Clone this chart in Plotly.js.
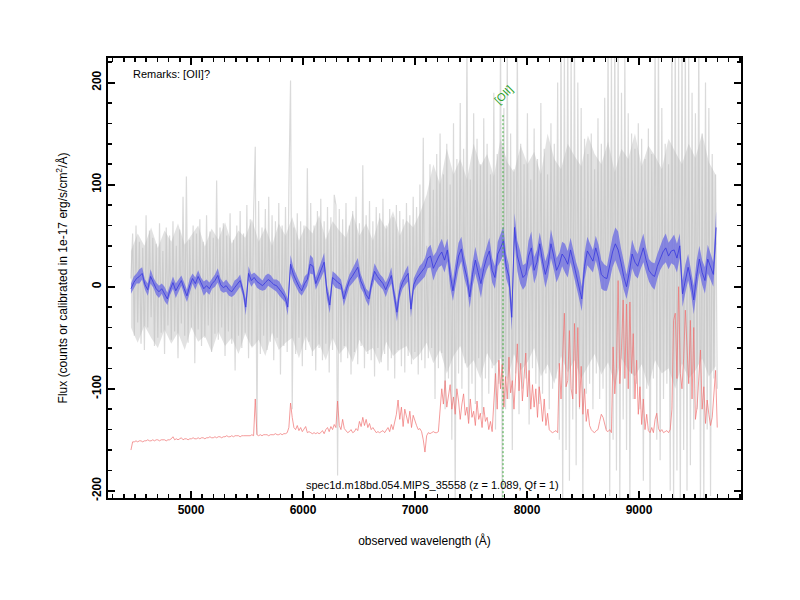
<!DOCTYPE html>
<html>
<head>
<meta charset="utf-8">
<script src="https://cdn.plot.ly/plotly-3.0.1.min.js"></script>
<style>html,body{margin:0;padding:0;background:#fff;}#chart{width:800px;height:600px;}</style>
</head>
<body>
<div id="chart"></div>
<script>
// ---------- data ----------
const GRID_START = 4464;   // first sampled wavelength (Å)
const GRID_STEP = 15;      // raw / sky sampling step (Å)
const SMOOTH_STEP = 25;    // smoothed-spectrum sampling step (Å)
const CORE_STEP = 60;      // step of the dense-noise envelope (Å)

// raw flux (grey spikes), 350 samples
const rawFlux = [
  8, 52, -48, 60, -35, 44, -56, 38, -62, 70, -40, 55, -30, 48, -58, 42,
  -50, 62, -45, 35, -66, 58, -38, 50, -52, 64, -44, 40, -70, 56, -36, 88,
  -48, 108, -55, 46, -40, 60, -75, 52, -42, 66, -58, 44, -50, 70, -38, 54,
  -64, 48, -46, 104, -52, 58, -40, 62, -68, 50, -44, 72, -56, 46, -82, 60,
  -48, 74, -60, 52, -45, 80, -70, 66, -58, 72, 137, -145, 84, -66, 58, -48,
  76, -62, 88, -54, 70, -72, 64, -50, 82, -86, 60, -58, 78, -64, 96, 202,
  -120, 58, -66, 72, -50, 64, -78, 60, -62, 116, -54, 82, -68, 60, -82, 74,
  -60, 86, -72, 64, -56, 78, -84, 68, -62, 90, 80, -185, 76, -74, 66, -58,
  82, -70, 60, -86, 74, -64, 88, -76, 62, -58, 119, -80, 70, -66, 84, -72,
  64, -88, 78, -60, 72, -74, 86, -66, 60, -82, 76, -70, 68, -90, 80, -62,
  74, -78, 66, -84, 82, -68, 70, -76, 88, -64, 78, -86, 100, -72, 146, -80,
  40, -70, 120, -60, 95, -110, 130, -80, 150, -65, 110, -120, 140, -90, 100, -150,
  160, -210, 125, -85, 180, -100, 135, -75, 240, -130, 105, -95, 170, -115, 145, -70,
  120, -125, 165, -90, 140, -105, 110, -80, 190, -140, 130, -95, 250, -220, 175, -120,
  230, -110, 150, -160, 115, -85, 240, -125, 140, -100, 120, -90, 170, -135, 105, -80,
  155, -95, 125, -115, 180, -105, 135, -85, 110, -120, 160, -100, 140, -90, 200, -150,
  250, -215, 235, -160, 260, -190, 230, -130, 245, -175, 200, -120, 175, -210, 145, -105,
  130, -95, 150, -120, 115, -85, 165, -110, 140, -100, 185, -140, 240, -205, 230, -150,
  255, -180, 240, -215, 190, -130, 225, -160, 170, -215, 150, -110, 135, -95, 160, -120,
  145, -190, 125, -100, 155, -215, 130, -90, 240, -150, 250, -170, 175, -110, 140, -95,
  120, -200, 245, -215, 260, -180, 230, -220, 250, -160, 240, -200, 225, -175, 190, -140,
  170, -120, 245, -215, 150, -210, 200, -140, 175, -205, 130, -90, 110, -100
];

// dense part of the raw-flux noise: upper / lower edges, 88 samples each
const coreUpper = [
  35, 52, 40, 58, 38, 55, 44, 62, 41, 50, 60, 39, 57, 46, 63, 42, 55, 48, 66, 44, 58, 40,
  62, 50, 68, 45, 60, 52, 70, 46, 64, 55, 48, 72, 50, 62, 45, 68, 56, 74, 50, 65, 58, 72,
  90, 120, 100, 135, 110, 125, 105, 140, 118, 130, 108, 145, 122, 112, 138, 120, 132, 110, 150, 125, 115, 140,
  128, 118, 148, 130, 120, 142, 112, 135, 125, 150, 118, 138, 128, 115, 145, 132, 120, 140, 126, 150, 122, 110
];
const coreLower = [
  -40, -55, -38, -50, -60, -42, -56, -45, -62, -40, -54, -48, -64, -44, -58, -50, -66, -46, -60, -52, -68, -45,
  -62, -55, -50, -70, -48, -64, -56, -72, -50, -66, -58, -74, -52, -64, -60, -76, -54, -68, -62, -58, -72, -66,
  -55, -75, -62, -85, -68, -58, -80, -72, -90, -65, -78, -70, -92, -66, -82, -74, -60, -88, -76, -95, -68, -84,
  -72, -90, -78, -66, -86, -74, -96, -70, -82, -88, -76, -98, -72, -85, -80, -100, -75, -90, -82, -70, -88, -78
];

// sky spectrum (red, offset), 350 samples
const skyFlux = [
  -160, -152, -152, -151, -152, -151, -151, -152, -151, -151, -150, -151, -151, -150, -151, -150,
  -150, -151, -150, -150, -150, -151, -150, -150, -149, -147, -150, -149, -150, -149, -148, -150,
  -149, -149, -150, -149, -149, -148, -149, -149, -148, -149, -148, -148, -149, -148, -148, -147,
  -148, -148, -147, -148, -147, -147, -148, -147, -147, -146, -147, -147, -146, -147, -146, -146,
  -146, -147, -146, -146, -146, -146, -146, -146, -145, -146, -110, -145, -146, -145, -146, -145,
  -145, -145, -146, -145, -145, -145, -144, -145, -145, -144, -145, -144, -144, -143, -138, -114,
  -128, -138, -140, -136, -141, -138, -142, -140, -137, -143, -142, -143, -144, -143, -144, -143,
  -144, -143, -141, -144, -140, -138, -142, -137, -140, -135, -138, -112, -136, -140, -130, -139,
  -141, -143, -142, -140, -143, -142, -139, -141, -132, -137, -128, -136, -130, -138, -134, -140,
  -138, -141, -143, -142, -143, -142, -141, -143, -140, -138, -142, -135, -140, -133, -125, -111,
  -130, -118, -137, -120, -128, -134, -122, -138, -126, -132, -136, -140, -139, -142, -150, -162,
  -146, -143, -144, -143, -142, -143, -143, -142, -120, -100, -115, -92, -118, -104, -96, -120,
  -108, -125, -100, -112, -130, -115, -105, -126, -118, -134, -110, -128, -122, -136, -112, -130,
  -124, -138, -118, -132, -128, -140, -132, -142, -110, -85, -120, -72, -100, -76, -118, -88,
  -110, -69, -104, -92, -120, -85, -56, -102, -75, -112, -90, -65, -108, -82, -120, -96,
  -118, -100, -128, -98, -112, -132, -110, -136, -124, -140, -142, -143, -142, -141, -143, -75,
  -110, -75, -26, -98, -92, -43, -100, -110, -36, -105, -40, -118, -78, -125, -100, -132,
  -120, -136, -140, -142, -143, -141, -140, -132, -125, -128, -136, -141, -142, -140, -143, -59,
  -105, -80, 6, -95, -60, -13, -90, -17, -100, -15, -85, -46, -110, -72, -125, -98,
  -135, -110, -140, -125, -141, -143, -138, -143, -130, -124, -139, -142, -140, -143, -142, -141,
  -143, -140, -120, -33, -26, -90, 0, -85, -100, -70, -23, -59, -95, -33, -110, -40,
  -130, -118, -90, -62, -120, -98, -134, -111, -125, -136, -128, -100, -82, -138
];

// smoothed flux (blue), 210 samples
const smoothFlux = [
  -2, 4, 8, 10, 13, 2, -3, 10, 4, -2,
  -5, -2, -7, -12, -3, 4, -4, 1, 6, -2,
  -9, 1, 8, 3, 10, 4, -2, 1, -2, 3,
  6, 11, 2, -1, 1, -3, -5, -1, 2, 6,
  -4, -20, 13, 6, 9, 5, 3, 1, 4, 7,
  5, 2, 1, -2, -6, -10, -20, 22, 12, 6,
  0, -4, 3, 7, 22, 20, 3, 10, 18, 24,
  -5, -18, 9, 6, 4, 2, -12, -2, 6, 10,
  14, 19, 6, 0, -8, -12, 4, 15, 10, 6,
  3, -3, 4, 11, -8, -25, -4, 4, 9, 13,
  -22, 2, 8, 12, 15, 19,
  28, 30, 18, 24, 30, 34, 26, 36, 12, -4,
  14, 30, 37, 20, 9, -10, 12, 26, 14, 3,
  18, 28, 35, 16, 9, 32, 38, 45, 20, 10,
  -30, 58, 30, 19, 9, 12, 30, 38, 16, 24,
  42, 25, 12, 22, 42, 30, 16, 22, 32, 28,
  22, 36, 24, 12, 2, -12, 20, 35, 30, 25,
  38, 28, 12, 9, 8, 20, 34, 42, 36, 24,
  10, 0, 14, 32, 24, 20, 30, 38, 26, 16,
  12, 10, 20, 28, 34, 38, 30, 35, 36, 28,
  40, -7, 8, 19, 6, -13, 10, 27, 14, 6,
  27, 20, 12, 58
];

// 1-sigma half width of the smoothed flux band, 210 samples
const smoothErr = [
  5, 6, 5, 7, 6, 5, 6, 7, 5, 6, 6, 5, 7, 6, 5, 6, 7, 6, 5, 6,
  6, 7, 5, 6, 6, 5, 7, 6, 6, 5, 6, 7, 6, 5, 6, 6, 5, 7, 6, 6,
  5, 8, 7, 6, 5, 6, 6, 5, 7, 6, 6, 5, 6, 7, 6, 5, 8, 9, 7, 6,
  6, 5, 7, 6, 9, 8, 6, 7, 8, 9, 7, 8, 6, 7, 6, 5, 7, 6, 6, 7,
  8, 9, 7, 6, 6, 7, 6, 8, 7, 6, 6, 7, 6, 8, 7, 9, 7, 6, 7, 8,
  8, 6, 7, 8, 8, 9,
  10, 11, 12, 10, 11, 13, 12, 11, 12, 10, 12, 13, 12, 11, 10, 11, 12, 13, 12, 14,
  11, 12, 13, 12, 11, 12, 13, 14, 12, 11, 13, 14, 15, 16, 12, 11, 15, 16, 13, 12,
  11, 12, 13, 12, 14, 13, 12, 11, 12, 14, 13, 12, 11, 12, 13, 12, 13, 14, 12, 11,
  12, 13, 14, 13, 12, 14, 15, 16, 18, 14, 13, 12, 13, 14, 13, 12, 13, 14, 12, 11,
  12, 13, 12, 12, 13, 14, 13, 12, 15, 14, 12, 13, 14, 13, 12, 14, 15, 13, 12, 13,
  14, 13, 12, 16
];

// emission line marker
const lineName = "[OII]";
const lineWave = 7786;
const lineTop = 168;
const lineBottom = -215;
const lineLabelY = 188;

// axis ticks
const xTickVals = [5000, 6000, 7000, 8000, 9000];
const xTickText = ["5000", "6000", "7000", "8000", "9000"];
const yTickVals = [-200, -100, 0, 100, 200];
const yTickText = ["-200", "-100", "0", "100", "200"];

const remarkText = "Remarks: [OII]?";
const specText = "spec1d.m18bd.054.MIPS_35558 (z = 1.089, Qf = 1)";

// ---------- traces ----------
const bandUpper = smoothFlux.map((v, i) => v + smoothErr[i]);
const bandLower = smoothFlux.map((v, i) => v - smoothErr[i]);

const traces = [
  {type: "scatter", mode: "lines", x0: GRID_START, dx: GRID_STEP, y: rawFlux,
   line: {color: "rgb(218,218,218)", width: 1.2}, hoverinfo: "skip"},
  {type: "scatter", mode: "lines", x0: GRID_START, dx: CORE_STEP, y: coreLower,
   line: {width: 0, color: "rgba(0,0,0,0)"}, hoverinfo: "skip"},
  {type: "scatter", mode: "lines", x0: GRID_START, dx: CORE_STEP, y: coreUpper,
   fill: "tonexty", fillcolor: "rgba(185,185,185,0.42)",
   line: {width: 0, color: "rgba(0,0,0,0)"}, hoverinfo: "skip"},
  {type: "scatter", mode: "lines", x0: GRID_START, dx: GRID_STEP, y: skyFlux,
   line: {color: "rgba(240,115,115,0.9)", width: 0.8}, hoverinfo: "skip"},
  {type: "scatter", mode: "lines", x0: GRID_START, dx: SMOOTH_STEP, y: bandLower,
   line: {width: 0, color: "rgba(0,0,0,0)"}, hoverinfo: "skip"},
  {type: "scatter", mode: "lines", x0: GRID_START, dx: SMOOTH_STEP, y: bandUpper,
   fill: "tonexty", fillcolor: "rgba(95,95,228,0.68)",
   line: {width: 0, color: "rgba(0,0,0,0)"}, hoverinfo: "skip"},
  {type: "scatter", mode: "lines", x0: GRID_START, dx: SMOOTH_STEP, y: smoothFlux,
   line: {color: "rgb(55,55,222)", width: 0.8}, hoverinfo: "skip"},
  {type: "scatter", mode: "lines", x: [lineWave, lineWave], y: [lineTop, lineBottom],
   line: {color: "rgb(60,170,60)", width: 1, dash: "2px,2px"}, hoverinfo: "skip"}
];

const tickFont = {family: "Liberation Sans, Arial, sans-serif", size: 12, color: "#000", weight: "bold"};
const textFont = {family: "Liberation Sans, Arial, sans-serif", size: 11, color: "#000"};

const layout = {
  width: 800, height: 600,
  margin: {l: 108, r: 59, t: 58, b: 102, pad: 0},
  paper_bgcolor: "#fff", plot_bgcolor: "#fff",
  showlegend: false,
  xaxis: {
    range: [4259, 9911], showgrid: false, zeroline: false,
    tickmode: "array", tickvals: xTickVals, ticktext: xTickText,
    ticks: "inside", ticklen: 7, tickwidth: 2, tickcolor: "#000",
    showline: true, linewidth: 2, linecolor: "#000", mirror: "allticks",
    tickfont: tickFont,
    minor: {dtick: 100, tick0: 0, ticks: "inside", ticklen: 4, tickwidth: 1.5, tickcolor: "#000", showgrid: false},
    title: {text: "observed wavelength (Å)", font: {family: "Liberation Sans, Arial, sans-serif", size: 12, color: "#000"}, standoff: 20},
    automargin: false
  },
  yaxis: {
    range: [-207, 224], showgrid: false, zeroline: false,
    tickmode: "array", tickvals: yTickVals, ticktext: yTickText, tickangle: -90,
    ticks: "inside", ticklen: 7, tickwidth: 2, tickcolor: "#000",
    showline: true, linewidth: 2, linecolor: "#000", mirror: "allticks",
    tickfont: tickFont,
    minor: {dtick: 20, tick0: 0, ticks: "inside", ticklen: 4, tickwidth: 1.5, tickcolor: "#000", showgrid: false},
    title: {text: "Flux (counts or calibrated in 1e-17 erg/s/cm<sup>2</sup>/Å)", font: {family: "Liberation Sans, Arial, sans-serif", size: 12, color: "#000"}, standoff: 20},
    automargin: false
  },
  annotations: [
    {xref: "paper", yref: "paper", x: 0.036, y: 0.964, xanchor: "left", yanchor: "middle",
     text: remarkText, showarrow: false, font: textFont},
    {xref: "paper", yref: "paper", x: 0.512, y: 0.03, xanchor: "center", yanchor: "middle",
     text: specText, showarrow: false, font: textFont},
    {xref: "x", yref: "y", x: lineWave, y: lineLabelY, xanchor: "center", yanchor: "middle",
     text: lineName, showarrow: false, textangle: -45,
     font: {family: "Liberation Sans, Arial, sans-serif", size: 11, color: "rgb(40,160,40)"}}
  ]
};

Plotly.newPlot("chart", traces, layout, {staticPlot: true, displayModeBar: false});
</script>
</body>
</html>
